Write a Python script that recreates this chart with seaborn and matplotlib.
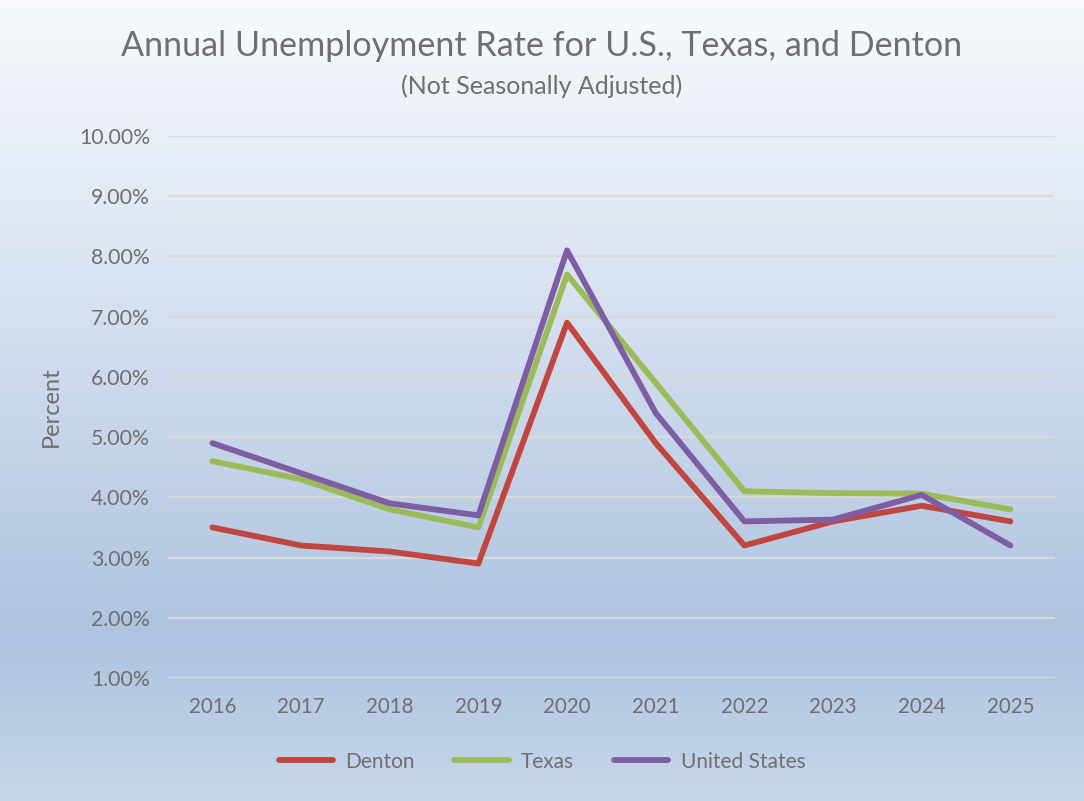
import numpy as np
import pandas as pd
import seaborn as sns
import matplotlib.pyplot as plt
from matplotlib.colors import LinearSegmentedColormap

years = [2016, 2017, 2018, 2019, 2020, 2021, 2022, 2023, 2024, 2025]
denton = [3.5, 3.2, 3.1, 2.9, 6.9, 4.9, 3.2, 3.6, 3.86, 3.6]
texas = [4.6, 4.3, 3.8, 3.5, 7.7, 5.9, 4.1, 4.07, 4.06, 3.8]
united_states = [4.9, 4.4, 3.9, 3.7, 8.1, 5.4, 3.6, 3.63, 4.04, 3.2]
series_names = ['Denton', 'Texas', 'United States']
colors = ['#c0463f', '#9bbb59', '#7d5ea3']

df = pd.DataFrame({
    'Year': years * 3,
    'Rate': denton + texas + united_states,
    'Area': [n for n in series_names for _ in years],
})

sns.set_style('white')
plt.rcParams['font.family'] = ['Lato', 'DejaVu Sans']
text_col = '#6f6f6f'

fig = plt.figure(figsize=(10.84, 8.01), dpi=100)

# gradient background
bg = fig.add_axes([0, 0, 1, 1], zorder=-10)
cmap = LinearSegmentedColormap.from_list(
    'bg', [(0, '#f8fafd'), (0.35, '#d9e3f1'), (0.8, '#adc3df'), (1.0, '#c7d7ea')])
grad = np.linspace(0, 1, 256).reshape(-1, 1)
bg.imshow(grad, aspect='auto', cmap=cmap, extent=[0, 1, 0, 1], origin='upper')
bg.axis('off')

ax = fig.add_axes([0.155, 0.1536, 0.818, 0.6766])
ax.patch.set_alpha(0)
sns.lineplot(data=df, x='Year', y='Rate', hue='Area', palette=colors,
             linewidth=4.2, ax=ax, legend=False, solid_capstyle='round')

ax.set_xlim(2015.5, 2025.5)
ax.set_ylim(1, 10)
ax.set_yticks(np.arange(1, 11, 1))
ax.set_yticklabels([f'{v:.2f}%' for v in np.arange(1, 11, 1)])
ax.set_xticks(years)
ax.set_xticklabels([str(y) for y in years])
ax.tick_params(colors=text_col, length=0)
ax.tick_params(axis='x', pad=14, labelsize=14.8)
ax.tick_params(axis='y', pad=13, labelsize=15.3)
ax.grid(axis='y', color='#d9d9d9', linewidth=1.6)
ax.set_axisbelow(True)
for s in ax.spines.values():
    s.set_visible(False)
ax.set_xlabel('')
ax.set_ylabel('Percent', color=text_col, fontsize=17, labelpad=12)

fig.text(0.5, 0.943, 'Annual Unemployment Rate for U.S., Texas, and Denton',
         ha='center', va='center', fontsize=24.6, color=text_col)
fig.text(0.5, 0.892, '(Not Seasonally Adjusted)', ha='center', va='center',
         fontsize=18, color=text_col)

handles = [plt.Line2D([], [], color=c, linewidth=4.2) for c in colors]
fig.legend(handles, series_names, loc='center', bbox_to_anchor=(0.5, 0.049),
           ncol=3, frameon=False, fontsize=15, labelcolor=text_col,
           handlelength=2.6, columnspacing=1.9, handletextpad=0.6)

fig.savefig('out.png', dpi=100)
